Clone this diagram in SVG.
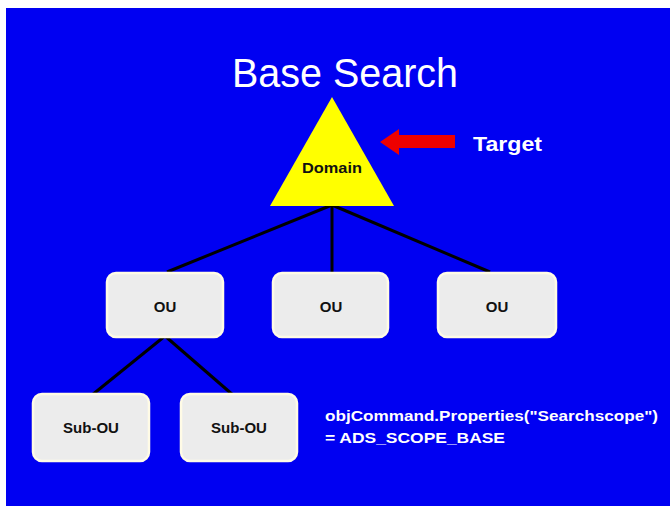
<svg xmlns="http://www.w3.org/2000/svg" width="670" height="508" viewBox="0 0 670 508">
<style>
.box{fill:#ececec;stroke:#fffbe6;stroke-width:2.5}
.lbl{font-family:"Liberation Sans",Arial,sans-serif;font-weight:bold;fill:#111;text-anchor:middle}
.wt{font-family:"Liberation Sans",Arial,sans-serif;fill:#fff}
.conn{stroke:#000;stroke-width:3;fill:none}
</style>
<rect x="0" y="0" width="670" height="508" fill="#fff"/>
<rect x="6" y="8" width="664" height="498" fill="#0000f2"/>
<text class="wt" x="345" y="87" font-size="40" text-anchor="middle" textLength="226" lengthAdjust="spacingAndGlyphs">Base Search</text>
<g id="connectors">
<line class="conn" x1="332" y1="205" x2="167" y2="272"/>
<line class="conn" x1="332" y1="205" x2="332" y2="272"/>
<line class="conn" x1="332" y1="205" x2="490" y2="272"/>
<line class="conn" x1="165" y1="336" x2="92" y2="395"/>
<line class="conn" x1="165" y1="336" x2="233" y2="395"/>
</g>
<g id="domain">
<polygon points="332,97 394,206 270,206" fill="#ffff00"/>
<text class="lbl" x="332" y="173" font-size="15" textLength="60" lengthAdjust="spacingAndGlyphs">Domain</text>
</g>
<g id="target-arrow">
<polygon points="380,142 399,129 399,135 455,135 455,148 399,148 399,155" fill="#ee0000"/>
<text class="wt" x="473" y="151" font-size="20" font-weight="bold" textLength="69" lengthAdjust="spacingAndGlyphs">Target</text>
</g>
<g id="ou1">
<rect class="box" x="107" y="273" width="116" height="64" rx="9"/>
<text class="lbl" x="165" y="312" font-size="15">OU</text>
</g>
<g id="ou2">
<rect class="box" x="273" y="273" width="115" height="64" rx="9"/>
<text class="lbl" x="331" y="312" font-size="15">OU</text>
</g>
<g id="ou3">
<rect class="box" x="438" y="273" width="118" height="64" rx="9"/>
<text class="lbl" x="497" y="312" font-size="15">OU</text>
</g>
<g id="subou1">
<rect class="box" x="33" y="394" width="116" height="67" rx="9"/>
<text class="lbl" x="91" y="433" font-size="15">Sub-OU</text>
</g>
<g id="subou2">
<rect class="box" x="181" y="394" width="116" height="67" rx="9"/>
<text class="lbl" x="239" y="433" font-size="15">Sub-OU</text>
</g>
<g id="note">
<text class="wt" x="325" y="421" font-size="14" font-weight="bold" textLength="333" lengthAdjust="spacingAndGlyphs">objCommand.Properties("Searchscope")</text>
<text class="wt" x="325" y="443" font-size="14" font-weight="bold" textLength="180" lengthAdjust="spacingAndGlyphs">= ADS_SCOPE_BASE</text>
</g>
</svg>
